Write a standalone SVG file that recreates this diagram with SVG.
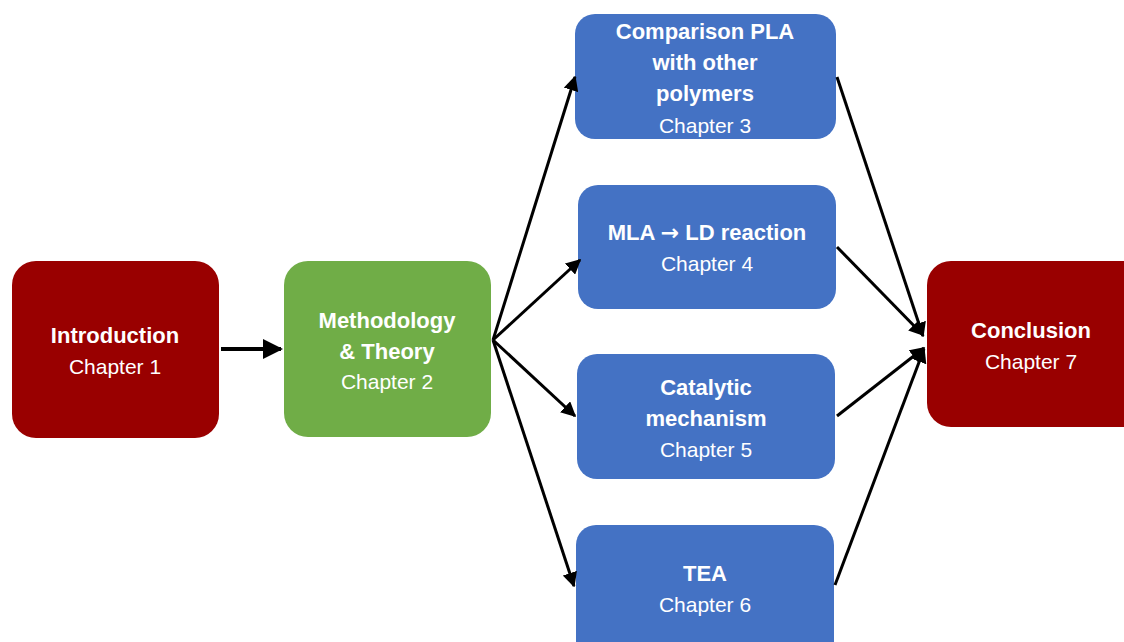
<svg xmlns="http://www.w3.org/2000/svg" width="1124" height="642" viewBox="0 0 1124 642">
<style>
.red{fill:#990000;}
.green{fill:#70AD47;}
.blue{fill:#4472C4;}
text{font-family:"Liberation Sans",Arial,sans-serif;fill:#ffffff;text-anchor:middle;}
.t{font-weight:bold;font-size:22px;}
.c{font-size:21px;}
.ar{font-family:"DejaVu Sans",sans-serif;}
.conn line{stroke:#000;stroke-width:3;marker-end:url(#ah);}
</style>
<defs>
<marker id="ah" viewBox="0 0 10 10" refX="9" refY="5" markerWidth="5" markerHeight="5" orient="auto" markerUnits="strokeWidth">
<path d="M0,0 L10,5 L0,10 z" fill="#000"/>
</marker>
</defs>
<rect width="1124" height="642" fill="#ffffff"/>
<g id="intro">
<rect class="red" x="12" y="261" width="207" height="177" rx="24"/>
<text class="t" x="115" y="343">Introduction</text>
<text class="c" x="115" y="374">Chapter 1</text>
</g>
<g id="method">
<rect class="green" x="284" y="261" width="207" height="176" rx="24"/>
<text class="t" x="387" y="328">Methodology</text>
<text class="t" x="387" y="359">&amp; Theory</text>
<text class="c" x="387" y="389">Chapter 2</text>
</g>
<g id="ch3">
<rect class="blue" x="575" y="14" width="261" height="125" rx="20"/>
<text class="t" x="705" y="39">Comparison PLA</text>
<text class="t" x="705" y="70">with other</text>
<text class="t" x="705" y="101">polymers</text>
<text class="c" x="705" y="133">Chapter 3</text>
</g>
<g id="ch4">
<rect class="blue" x="578" y="185" width="258" height="124" rx="20"/>
<text class="t" x="707" y="240">MLA <tspan class="ar">→</tspan> LD reaction</text>
<text class="c" x="707" y="271">Chapter 4</text>
</g>
<g id="ch5">
<rect class="blue" x="577" y="354" width="258" height="125" rx="20"/>
<text class="t" x="706" y="395">Catalytic</text>
<text class="t" x="706" y="426">mechanism</text>
<text class="c" x="706" y="457">Chapter 5</text>
</g>
<g id="ch6">
<rect class="blue" x="576" y="525" width="258" height="140" rx="20"/>
<text class="t" x="705" y="581">TEA</text>
<text class="c" x="705" y="612">Chapter 6</text>
</g>
<g id="concl">
<rect class="red" x="927" y="261" width="220" height="166" rx="24"/>
<text class="t" x="1031" y="338">Conclusion</text>
<text class="c" x="1031" y="369">Chapter 7</text>
</g>
<g id="connectors" class="conn">
<line x1="221" y1="349" x2="281" y2="349" style="stroke-width:4"/>
<line x1="493" y1="340" x2="575" y2="77"/>
<line x1="493" y1="340" x2="580" y2="260"/>
<line x1="493" y1="340" x2="575" y2="416"/>
<line x1="493" y1="340" x2="574" y2="586"/>
<line x1="837" y1="77" x2="923" y2="336"/>
<line x1="837" y1="247" x2="923" y2="335"/>
<line x1="837" y1="416" x2="924" y2="348"/>
<line x1="835" y1="585" x2="924" y2="349"/>
</g>
</svg>
